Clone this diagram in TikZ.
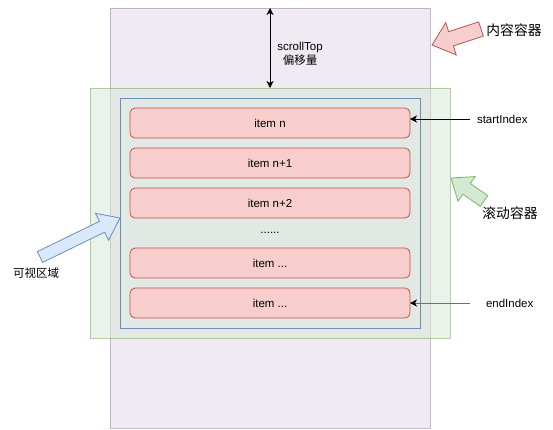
\documentclass[tikz,border=0pt]{standalone}
\usepackage{fontspec}
\setmainfont{Liberation Sans}
\newfontfamily\cjk{Noto Sans CJK SC}
\usetikzlibrary{calc,arrows.meta}
\definecolor{purpfill}{HTML}{E1D5E7}
\definecolor{purpline}{HTML}{9673A6}
\definecolor{greenfill}{HTML}{D5E8D4}
\definecolor{greenline}{HTML}{82B366}
\definecolor{bluefill}{HTML}{DAE8FC}
\definecolor{blueline}{HTML}{6C8EBF}
\definecolor{redfill}{HTML}{F8CECC}
\definecolor{redline}{HTML}{B85450}
\definecolor{greyline}{HTML}{707070}
\newcommand\blkarrow[6]{% tail, tip, head length, head half width, shaft half width, style
  \path[#6] (#2)
    -- ($($(#2)!#3!(#1)$)!#4!90:(#2)$)
    -- ($($(#2)!#3!(#1)$)!#5!90:(#2)$)
    -- ($(#1)!#5!90:(#2)$)
    -- ($(#1)!#5!-90:(#2)$)
    -- ($($(#2)!#3!(#1)$)!#5!-90:(#2)$)
    -- ($($(#2)!#3!(#1)$)!#4!-90:(#2)$)
    -- cycle;}
\tikzset{
  box/.style={rectangle, inner sep=0pt, outer sep=0pt, anchor=north west},
  itembox/.style={draw=redline, fill=redfill, rounded corners=5pt, rectangle,
    minimum width=280pt, minimum height=30pt, inner sep=0pt, outer sep=0pt,
    anchor=north west, font=\fontsize{11.5}{13}\selectfont},
  lbl/.style={font=\fontsize{11.5}{13}\selectfont, inner sep=0pt, outer sep=0pt},
  biglbl/.style={lbl, font=\cjk\fontsize{13.8}{16}\selectfont},
  ptr/.style={-{Stealth[length=7pt,width=7pt,inset=2pt]}, line width=0.8pt},
  dblptr/.style={{Stealth[length=7pt,width=7pt,inset=2pt]}-{Stealth[length=7pt,width=7pt,inset=2pt]}, line width=0.8pt},
}
\begin{document}
\begin{tikzpicture}[x=1pt, y=-1pt, line width=0.8pt]
\useasboundingbox (0,0) rectangle (553,429);
% containers
\node[box, draw=purpline, draw opacity=0.5, fill=purpfill, fill opacity=0.5,
  minimum width=320pt, minimum height=420pt] (content) at (110,8) {};
\node[box, draw=greenline, draw opacity=0.6, fill=greenfill, fill opacity=0.5,
  minimum width=360pt, minimum height=250pt] (scroll) at (90,88) {};
\node[box, draw=blueline, minimum width=300pt, minimum height=230pt] (view) at (120,98) {};
% items
\node[itembox] (i1) at (130,108) {item n};
\node[itembox] (i2) at (130,148) {item n+1};
\node[itembox] (i3) at (130,188) {item n+2};
\node[lbl] (dots) at (270,233) {......};
\node[itembox] (i4) at (130,248) {item ...};
\node[itembox] (i5) at (130,288) {item ...};
% scrollTop
\coordinate (stx) at (270,0);
\draw[dblptr] (content.north -| stx) -- (scroll.north -| stx);
\node[lbl, align=center] (stlbl) at (300,54) {scrollTop\\[1pt]{\cjk 偏移量}};
% index pointers
\node[lbl, anchor=west] (lblstart) at (477,119) {startIndex};
\draw[ptr] ([xshift=-7pt]lblstart.west) -- (lblstart.west -| i1.east);
\node[lbl, anchor=west] (lblend) at (486,303) {endIndex};
\draw[-{Stealth[length=7pt,width=7pt,inset=2pt,color=black]}, draw=greyline, line width=0.8pt]
  ([xshift=-16pt]lblend.west) -- (lblend.west -| i5.east);
% block arrows
\coordinate (a1t) at (481,29);
\coordinate (a1p) at (432,45);
\blkarrow{a1t}{a1p}{20pt}{17pt}{7.5pt}{draw=redline, fill=redfill}
\node[biglbl] (lblcontent) at (514,30) {内容容器};
\coordinate (a2t) at (484,201);
\coordinate (a2p) at (451,178);
\blkarrow{a2t}{a2p}{19pt}{15pt}{6.5pt}{draw=greenline, fill=greenfill}
\node[biglbl] (lblscroll) at (510,213) {滚动容器};
\coordinate (a3t) at (40,257);
\coordinate (a3p) at (120,218);
\blkarrow{a3t}{a3p}{20pt}{15pt}{6pt}{draw=blueline, fill=bluefill}
\node[lbl, font=\cjk\fontsize{11.5}{14}\selectfont] (lblview) at (36,273) {可视区域};
\end{tikzpicture}
\end{document}
